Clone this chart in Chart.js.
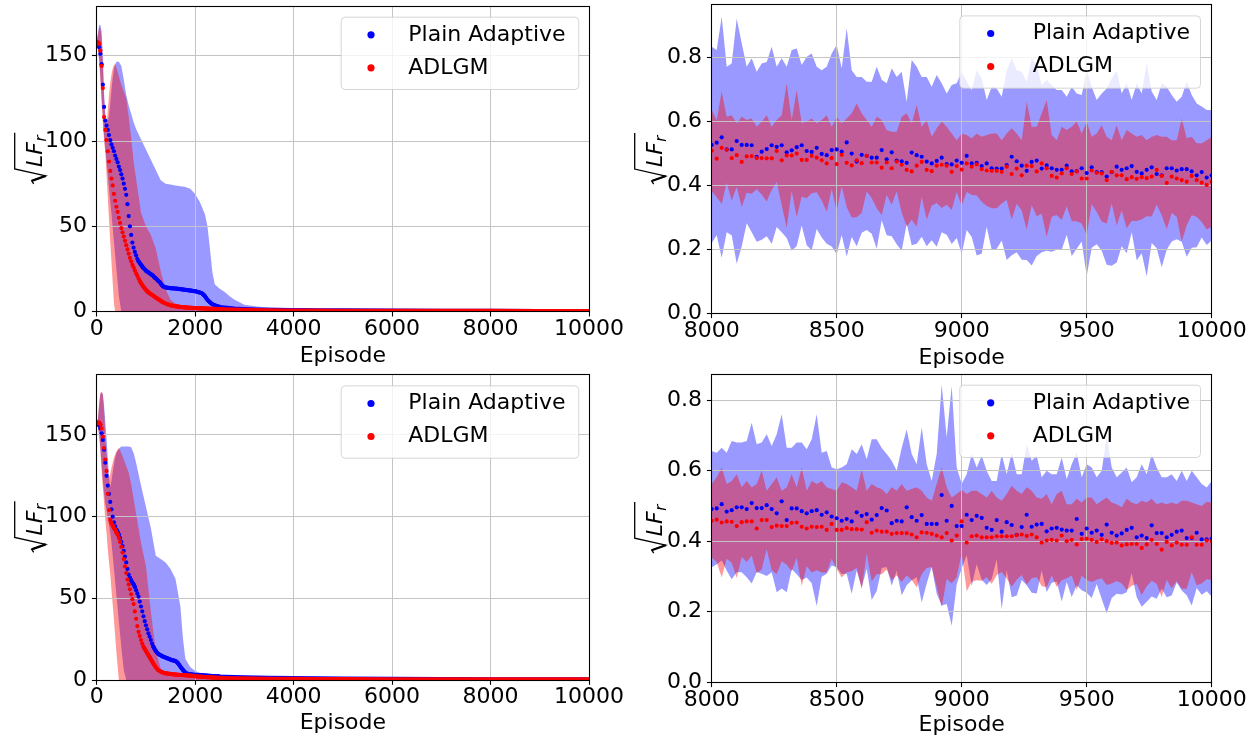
<!DOCTYPE html>
<html>
<head>
<meta charset="utf-8">
<script src="https://cdn.jsdelivr.net/npm/chart.js@4.4.1/dist/chart.umd.min.js"></script>
<style>
  body { margin: 0; background: #fff; }
  #wrap { position: relative; width: 1260px; height: 741px; overflow: hidden; }
  canvas { position: absolute; }
</style>
</head>
<body>
<div id="wrap">
  <canvas id="tl" width="630" height="370" style="left:0;top:0"></canvas>
  <canvas id="tr" width="630" height="370" style="left:630px;top:0"></canvas>
  <canvas id="bl" width="630" height="371" style="left:0;top:370px"></canvas>
  <canvas id="br" width="630" height="371" style="left:630px;top:370px"></canvas>
</div>
<script>
// ---- episodes ----
// left panels: one point every 25 episodes up to 2500, then a sparse tail (drawn as a thick line)
const denseEpisodes = Array.from({ length: 101 }, (_, i) => i * 25);
const tailEpisodes = [2600, 2800, 3000, 3250, 3500, 4000, 4500, 5000, 6000, 7000, 8000, 9000, 10000];
const fullEpisodes = denseEpisodes.concat(tailEpisodes);
// std band outline of the left panels
const bandEpisodes = [0, 25, 50, 75, 100, 125, 150, 175, 200, 225, 250, 275, 300, 325, 350, 375, 400,
  450, 500, 550, 600, 650, 700, 750, 800, 900, 1000, 1100, 1200, 1300, 1400, 1500, 1600, 1700, 1750,
  1800, 1900, 2000, 2100, 2200, 2250, 2300, 2350, 2400, 2500, 2600, 2700, 2800, 3000, 3250, 3500,
  4000, 4500, 5000, 6000, 7000, 8000, 9000, 10000];
// right panels: last 2000 episodes, one point every 20
const lateEpisodes = Array.from({ length: 101 }, (_, i) => 8000 + i * 20);

// tick labels
const xTicksFull = [0, 2000, 4000, 6000, 8000, 10000];
const xTicksLate = [8000, 8500, 9000, 9500, 10000];
const yTicksFull = [0, 50, 100, 150];
const yTicksLate = [0, 0.2, 0.4, 0.6, 0.8];

// ---- top left ----
const tlBlueMean = [
  158, 157, 155, 151, 145, 133, 120, 112, 109, 106.5,
  103.5, 100.5, 98, 96, 94, 91.5, 89.5, 87.5, 85, 83,
  80.5, 78, 75, 72, 68.5, 63, 56, 50, 45, 40.5,
  37.5, 35, 33, 31, 29.5, 28.5, 27.5, 26.5, 25.5, 24.8,
  24, 23.5, 23, 22.5, 22, 21.5, 21, 20, 19.5, 18.8,
  18, 17.5, 16.5, 15.5, 14.8, 14.5, 14.2, 14.1, 14, 13.9,
  13.8, 13.7, 13.7, 13.6, 13.6, 13.5, 13.4, 13.3, 13.2, 13.1,
  13, 12.9, 12.8, 12.7, 12.6, 12.5, 12.4, 12.3, 12.2, 12.1,
  12, 11.8, 11.6, 11.4, 11.2, 10.9, 10.5, 9.8, 9, 8,
  7, 6.2, 5.5, 4.9, 4.4, 4, 3.7, 3.4, 3.2, 3,
  2.8,
  2.5, 1.9, 1.6, 1.35, 1.2, 1.0, 0.9, 0.8, 0.7, 0.62, 0.53, 0.47, 0.43];
const tlRedMean = [
  158, 157.8, 157, 153, 144, 131, 114, 106.5, 100.5, 94,
  88, 82.5, 78, 74, 69, 65, 61.5, 58.5, 55, 52,
  49, 46.5, 44, 41.5, 39, 36.5, 34, 31.5, 29.5, 27.5,
  26, 24.2, 22.5, 21, 19.5, 18, 16.8, 15.6, 14.6, 13.6,
  12.8, 12, 11.3, 10.8, 10.3, 9.8, 9.3, 8.8, 8.3, 7.8,
  7.3, 6.9, 6.4, 5.9, 5.5, 5.1, 4.8, 4.5, 4.2, 4,
  3.8, 3.6, 3.5, 3.3, 3.2, 3.1, 3, 2.9, 2.8, 2.7,
  2.6, 2.55, 2.5, 2.45, 2.4, 2.35, 2.3, 2.25, 2.2, 2.15,
  2.1, 2.08, 2.05, 2.02, 2, 1.97, 1.94, 1.91, 1.88, 1.85,
  1.82, 1.79, 1.76, 1.73, 1.7, 1.67, 1.64, 1.61, 1.58, 1.55,
  1.52,
  1.42, 1.25, 1.1, 0.95, 0.85, 0.75, 0.68, 0.62, 0.56, 0.52, 0.5, 0.46, 0.41];
const tlBlueUpper = [
  159, 163, 168, 168, 164, 150, 128, 116, 112, 112,
  115, 122, 130, 137, 142, 145, 146.5, 146.5, 144, 136,
  127, 121, 116, 111, 107, 101, 95, 89, 83, 77,
  75, 74.5, 74, 73.5, 73.3, 73, 72, 69, 64, 57,
  50, 37, 23, 16, 13.5, 11.5, 9, 7, 4, 3,
  2.5, 2, 1.7, 1.5, 1.2, 1, 0.85, 0.75, 0.7];
const tlBlueLower = [
  157, 154, 148, 138, 126, 114, 103, 95, 88, 80,
  72, 64, 57, 49, 41, 33, 25, 9, 0, 0,
  0, 0, 0, 0, 0, 0, 0, 0, 0, 0,
  0, 0, 0, 0, 0, 0, 0, 0, 0, 0,
  0, 0, 0, 0, 0, 0, 0, 0, 0, 0,
  0, 0, 0, 0, 0, 0, 0, 0, 0];
const tlRedUpper = [
  159, 162, 167, 166, 160, 145, 125, 112, 110, 118,
  127, 134, 139, 142.5, 144.5, 145, 143, 138, 133, 129,
  125, 114, 102, 88, 78, 58, 50, 45, 37, 24,
  13, 7, 4.8, 3.9, 3.6, 3.4, 3.1, 2.9, 2.7, 2.6,
  2.55, 2.5, 2.45, 2.4, 2.3, 2.2, 2.1, 2, 1.9, 1.7,
  1.6, 1.4, 1.3, 1.15, 1, 0.85, 0.7, 0.62, 0.56];
const tlRedLower = [
  157, 154, 147, 135, 122, 110, 100, 93, 80, 67,
  54, 41, 29, 17, 5, 0, 0, 0, 0, 0,
  0, 0, 0, 0, 0, 0, 0, 0, 0, 0,
  0, 0, 0, 0, 0, 0, 0, 0, 0, 0,
  0, 0, 0, 0, 0, 0, 0, 0, 0, 0,
  0, 0, 0, 0, 0, 0, 0, 0, 0];

// ---- bottom left ----
const blBlueMean = [
  157.5, 157, 156, 154, 151, 147, 141, 133, 125, 119,
  114, 109, 104.5, 100, 96.5, 94, 92, 90.5, 89, 87,
  84.5, 82, 79, 75.5, 72, 68, 64.5, 62.5, 61, 59.5,
  58.5, 57, 55, 53, 51, 48, 45, 42, 39, 36,
  33.5, 31, 28.6, 26.5, 24.5, 22.3, 20.5, 19, 17.8, 16.8,
  16, 15.5, 15.1, 14.7, 14.3, 14, 13.7, 13.4, 13.1, 12.8,
  12.5, 12.2, 12, 11.8, 11.5, 11.1, 10.3, 9.3, 8.2, 7.2,
  6.2, 5.3, 4.6, 4.1, 3.8, 3.6, 3.5, 3.4, 3.3, 3.2,
  3.15, 3.1, 3.05, 3, 2.95, 2.9, 2.85, 2.8, 2.75, 2.7,
  2.65, 2.6, 2.55, 2.5, 2.45, 2.4, 2.35, 2.3, 2.25, 2.2,
  2.15,
  2.05, 1.9, 1.75, 1.6, 1.45, 1.25, 1.1, 0.95, 0.8, 0.68, 0.49, 0.45, 0.41];
const blRedMean = [
  157.5, 157.5, 157.5, 156.5, 154, 149, 142, 135, 128, 114,
  104, 98, 96, 94.5, 93, 92, 90.5, 89, 87, 84.5,
  81.5, 78, 74, 69.5, 65.5, 61.5, 58.5, 55.5, 52.5, 49.5,
  46.5, 42, 37.5, 33, 29.5, 27, 24.5, 22.3, 20.4, 19,
  17.7, 16.5, 15.3, 14, 12.7, 11.4, 10.2, 9, 7.9, 6.9,
  6.1, 5.6, 5.2, 4.8, 4.5, 4.3, 4.1, 4, 3.9, 3.8,
  3.7, 3.6, 3.5, 3.4, 3.35, 3.3, 3.2, 3.15, 3.1, 3.05,
  3, 2.95, 2.9, 2.85, 2.8, 2.75, 2.7, 2.6, 2.5, 2.4,
  2.3, 2.2, 2.15, 2.1, 2.05, 2, 1.95, 1.9, 1.85, 1.8,
  1.75, 1.7, 1.65, 1.6, 1.55, 1.5, 1.45, 1.42, 1.39, 1.36,
  1.33,
  1.25, 1.12, 1.02, 0.92, 0.84, 0.72, 0.64, 0.58, 0.52, 0.48, 0.45, 0.42, 0.40];
const blBlueUpper = [
  158, 160, 168, 175, 176, 175, 168, 158, 148, 136,
  124, 118, 122, 127, 132, 136, 139, 141.5, 143, 143,
  143, 143, 142.5, 139, 133, 119, 106, 93, 76, 74,
  72, 68, 62, 45, 26, 13, 8, 5.5, 4.5, 3.8,
  3.5, 3.3, 3.1, 3, 2.8, 2.6, 2.4, 2.2, 1.9, 1.5,
  1.2, 1.0, 0.95, 0.9, 0.8, 0.75, 0.6, 0.55, 0.5];
const blBlueLower = [
  157, 155, 150, 142, 132, 122, 114, 108, 104, 98,
  95, 90, 84, 76, 68, 60, 52, 36, 20, 6,
  0, 0, 0, 0, 0, 0, 0, 0, 0, 0,
  0, 0, 0, 0, 0, 0, 0, 0, 0, 0,
  0, 0, 0, 0, 0, 0, 0, 0, 0, 0,
  0, 0, 0, 0, 0, 0, 0, 0, 0];
const blRedUpper = [
  158, 160, 170, 176, 176.5, 175, 165, 150, 138, 128,
  124, 126, 130, 133, 136, 138, 140, 142, 139, 135,
  131, 127, 120, 111, 102, 84, 70, 42, 18, 7,
  4.5, 4, 3.7, 3.5, 3.4, 3.3, 3.1, 2.9, 2.7, 2.5,
  2.4, 2.3, 2.2, 2.1, 2, 1.9, 1.8, 1.7, 1.55, 1.4,
  1.25, 1.05, 0.95, 0.85, 0.75, 0.65, 0.6, 0.55, 0.5];
const blRedLower = [
  157, 155, 150, 140, 128, 118, 108, 98, 90, 80,
  72, 65, 55, 46, 37, 27, 17, 0, 0, 0,
  0, 0, 0, 0, 0, 0, 0, 0, 0, 0,
  0, 0, 0, 0, 0, 0, 0, 0, 0, 0,
  0, 0, 0, 0, 0, 0, 0, 0, 0, 0,
  0, 0, 0, 0, 0, 0, 0, 0, 0];

// ---- top right (mean and std) ----
const trBlueMean = [
  0.527, 0.534, 0.551, 0.513, 0.513, 0.539, 0.527, 0.527, 0.526, 0.490,
  0.506, 0.514, 0.526, 0.521, 0.526, 0.504, 0.510, 0.520, 0.526, 0.508,
  0.505, 0.518, 0.499, 0.495, 0.511, 0.513, 0.506, 0.535, 0.500, 0.475,
  0.496, 0.493, 0.487, 0.487, 0.511, 0.482, 0.504, 0.478, 0.476, 0.471,
  0.503, 0.495, 0.490, 0.475, 0.469, 0.477, 0.487, 0.467, 0.466, 0.478,
  0.471, 0.493, 0.469, 0.471, 0.461, 0.469, 0.454, 0.453, 0.453, 0.464,
  0.490, 0.476, 0.462, 0.446, 0.474, 0.478, 0.453, 0.463, 0.454, 0.449,
  0.449, 0.462, 0.444, 0.445, 0.454, 0.439, 0.457, 0.442, 0.442, 0.428,
  0.442, 0.459, 0.449, 0.454, 0.461, 0.443, 0.438, 0.449, 0.457, 0.436,
  0.432, 0.454, 0.454, 0.447, 0.451, 0.451, 0.444, 0.432, 0.442, 0.425,
  0.432];
const trBlueStd = [
  0.307, 0.290, 0.377, 0.259, 0.269, 0.384, 0.318, 0.245, 0.272, 0.266,
  0.276, 0.273, 0.308, 0.251, 0.272, 0.268, 0.314, 0.309, 0.251, 0.295,
  0.308, 0.254, 0.262, 0.277, 0.302, 0.327, 0.261, 0.357, 0.261, 0.265,
  0.244, 0.232, 0.238, 0.285, 0.220, 0.238, 0.263, 0.262, 0.280, 0.191,
  0.290, 0.277, 0.250, 0.265, 0.240, 0.269, 0.233, 0.221, 0.249, 0.242,
  0.285, 0.232, 0.230, 0.290, 0.274, 0.199, 0.255, 0.251, 0.225, 0.297,
  0.308, 0.285, 0.294, 0.279, 0.324, 0.299, 0.262, 0.267, 0.261, 0.250,
  0.250, 0.216, 0.265, 0.243, 0.229, 0.322, 0.252, 0.226, 0.246, 0.276,
  0.293, 0.300, 0.239, 0.266, 0.207, 0.277, 0.250, 0.333, 0.237, 0.232,
  0.288, 0.255, 0.229, 0.215, 0.227, 0.274, 0.239, 0.225, 0.205, 0.211,
  0.204];
const trRedMean = [
  0.509, 0.484, 0.518, 0.512, 0.486, 0.495, 0.474, 0.491, 0.492, 0.486,
  0.486, 0.485, 0.485, 0.508, 0.479, 0.494, 0.494, 0.500, 0.480, 0.480,
  0.493, 0.487, 0.479, 0.469, 0.486, 0.467, 0.496, 0.471, 0.463, 0.479,
  0.470, 0.493, 0.472, 0.472, 0.456, 0.472, 0.454, 0.475, 0.465, 0.449,
  0.444, 0.462, 0.474, 0.449, 0.445, 0.462, 0.465, 0.462, 0.443, 0.461,
  0.450, 0.469, 0.459, 0.466, 0.451, 0.447, 0.446, 0.446, 0.443, 0.459,
  0.436, 0.453, 0.432, 0.462, 0.461, 0.444, 0.469, 0.454, 0.430, 0.425,
  0.438, 0.454, 0.436, 0.444, 0.422, 0.422, 0.447, 0.440, 0.438, 0.417,
  0.443, 0.432, 0.432, 0.420, 0.426, 0.421, 0.426, 0.423, 0.428, 0.449,
  0.430, 0.408, 0.428, 0.422, 0.417, 0.412, 0.430, 0.417, 0.409, 0.402,
  0.412];
const trRedStd = [
  0.127, 0.121, 0.176, 0.103, 0.134, 0.100, 0.141, 0.114, 0.118, 0.098,
  0.114, 0.135, 0.099, 0.097, 0.141, 0.226, 0.111, 0.199, 0.115, 0.120,
  0.117, 0.108, 0.126, 0.151, 0.098, 0.148, 0.099, 0.139, 0.163, 0.178,
  0.156, 0.112, 0.112, 0.143, 0.149, 0.102, 0.114, 0.093, 0.150, 0.177,
  0.151, 0.190, 0.110, 0.156, 0.108, 0.117, 0.135, 0.122, 0.120, 0.081,
  0.113, 0.089, 0.089, 0.097, 0.102, 0.111, 0.117, 0.117, 0.099, 0.104,
  0.143, 0.110, 0.110, 0.200, 0.123, 0.140, 0.157, 0.214, 0.128, 0.117,
  0.146, 0.120, 0.148, 0.156, 0.141, 0.178, 0.106, 0.123, 0.151, 0.136,
  0.099, 0.157, 0.110, 0.154, 0.137, 0.132, 0.132, 0.119, 0.125, 0.109,
  0.123, 0.145, 0.114, 0.120, 0.193, 0.136, 0.123, 0.115, 0.123, 0.140,
  0.141];

// ---- bottom right (mean and std) ----
const brBlueMean = [
  0.491, 0.493, 0.505, 0.484, 0.488, 0.496, 0.496, 0.491, 0.508, 0.494,
  0.494, 0.502, 0.491, 0.479, 0.513, 0.460, 0.493, 0.493, 0.485, 0.479,
  0.485, 0.488, 0.475, 0.482, 0.470, 0.465, 0.458, 0.463, 0.456, 0.482,
  0.472, 0.477, 0.461, 0.474, 0.494, 0.487, 0.451, 0.458, 0.456, 0.496,
  0.468, 0.458, 0.474, 0.449, 0.449, 0.449, 0.531, 0.458, 0.500, 0.443,
  0.443, 0.475, 0.460, 0.472, 0.466, 0.438, 0.432, 0.460, 0.427, 0.454,
  0.446, 0.418, 0.440, 0.475, 0.441, 0.447, 0.449, 0.428, 0.436, 0.438,
  0.433, 0.430, 0.430, 0.463, 0.421, 0.436, 0.424, 0.430, 0.418, 0.447,
  0.424, 0.416, 0.422, 0.432, 0.438, 0.411, 0.416, 0.409, 0.445, 0.423,
  0.423, 0.411, 0.418, 0.427, 0.430, 0.409, 0.409, 0.424, 0.405, 0.405,
  0.407];
const brBlueStd = [
  0.165, 0.158, 0.160, 0.167, 0.196, 0.184, 0.184, 0.193, 0.228, 0.181,
  0.186, 0.201, 0.179, 0.224, 0.247, 0.205, 0.172, 0.187, 0.195, 0.182,
  0.204, 0.272, 0.176, 0.174, 0.139, 0.139, 0.151, 0.155, 0.205, 0.165,
  0.203, 0.155, 0.228, 0.215, 0.170, 0.160, 0.177, 0.142, 0.209, 0.221,
  0.179, 0.160, 0.248, 0.169, 0.122, 0.198, 0.313, 0.236, 0.340, 0.166,
  0.120, 0.115, 0.187, 0.137, 0.176, 0.162, 0.139, 0.111, 0.220, 0.136,
  0.205, 0.172, 0.150, 0.200, 0.187, 0.195, 0.132, 0.172, 0.154, 0.152,
  0.204, 0.146, 0.188, 0.188, 0.160, 0.182, 0.185, 0.151, 0.182, 0.251,
  0.185, 0.165, 0.173, 0.177, 0.129, 0.170, 0.202, 0.181, 0.202, 0.186,
  0.158, 0.170, 0.172, 0.144, 0.170, 0.162, 0.191, 0.157, 0.157, 0.147,
  0.164];
const brRedMean = [
  0.458, 0.461, 0.453, 0.456, 0.455, 0.443, 0.454, 0.456, 0.456, 0.436,
  0.460, 0.460, 0.440, 0.444, 0.443, 0.443, 0.452, 0.453, 0.441, 0.436,
  0.441, 0.440, 0.441, 0.432, 0.449, 0.432, 0.432, 0.437, 0.434, 0.434,
  0.433, 0.454, 0.424, 0.430, 0.427, 0.427, 0.421, 0.423, 0.423, 0.423,
  0.419, 0.411, 0.425, 0.424, 0.421, 0.416, 0.411, 0.423, 0.402, 0.416,
  0.456, 0.396, 0.414, 0.416, 0.411, 0.411, 0.411, 0.414, 0.414, 0.414,
  0.414, 0.417, 0.419, 0.415, 0.419, 0.411, 0.396, 0.402, 0.404, 0.402,
  0.416, 0.400, 0.404, 0.391, 0.406, 0.407, 0.404, 0.398, 0.405, 0.400,
  0.395, 0.396, 0.388, 0.391, 0.392, 0.392, 0.381, 0.391, 0.404, 0.392,
  0.376, 0.398, 0.388, 0.396, 0.390, 0.390, 0.411, 0.390, 0.390, 0.402,
  0.400];
const brRedStd = [
  0.104, 0.120, 0.156, 0.106, 0.116, 0.147, 0.099, 0.115, 0.097, 0.126,
  0.140, 0.083, 0.122, 0.137, 0.100, 0.110, 0.138, 0.100, 0.168, 0.107,
  0.130, 0.122, 0.130, 0.121, 0.099, 0.111, 0.135, 0.125, 0.119, 0.109,
  0.170, 0.089, 0.138, 0.123, 0.121, 0.107, 0.132, 0.120, 0.139, 0.120,
  0.129, 0.142, 0.118, 0.100, 0.094, 0.146, 0.198, 0.130, 0.122, 0.118,
  0.090, 0.138, 0.129, 0.127, 0.123, 0.113, 0.132, 0.110, 0.101, 0.120,
  0.143, 0.126, 0.115, 0.138, 0.124, 0.113, 0.124, 0.132, 0.101, 0.132,
  0.127, 0.105, 0.101, 0.129, 0.104, 0.117, 0.120, 0.107, 0.110, 0.124,
  0.115, 0.109, 0.108, 0.129, 0.118, 0.113, 0.134, 0.119, 0.116, 0.113,
  0.134, 0.107, 0.122, 0.109, 0.125, 0.125, 0.099, 0.115, 0.110, 0.110,
  0.110];

// ---- styling ----
const PLAIN = '#0000ff';
const ADLGM = '#ff0000';
const PLAIN_BAND = 'rgba(0,0,255,0.4)';
const ADLGM_BAND = 'rgba(255,0,0,0.4)';
const GRID = '#c4c4c4';
const FONT = '"DejaVu Sans", "Liberation Sans", sans-serif';

Chart.defaults.font.family = FONT;
Chart.defaults.font.size = 22;
Chart.defaults.color = '#000';

const xy = (xs, ys) => xs.map((x, i) => ({ x: x, y: ys[i] }));
const plus = (m, s) => m.map((v, i) => v + s[i]);
const minus = (m, s) => m.map((v, i) => v - s[i]);
const align = (px) => Math.round(px - 0.5) + 0.5;

function meanSet(xs, ys, color, joined) {
  return {
    data: xy(xs, ys),
    order: color === ADLGM ? 0 : 1,
    borderColor: color,
    backgroundColor: color,
    pointBackgroundColor: color,
    pointBorderWidth: 0,
    pointRadius: joined ? (c => (c.raw && c.raw.x <= 2500 ? 2.1 : 0)) : 2.1,
    showLine: joined,
    borderWidth: 4,
    borderCapStyle: 'round',
    borderJoinStyle: 'round',
    // the dots only melt into a line where the curve is flat
    segment: joined ? { borderColor: c => (Math.abs(c.p1.y - c.p0.y) > 2.5 ? 'rgba(0,0,0,0)' : color) } : {},
    fill: false,
    tension: 0,
    clip: 0
  };
}

function bandEdge(xs, ys, order) {
  return { data: xy(xs, ys), order: order, borderWidth: 0, pointRadius: 0, fill: false, tension: 0, clip: 0 };
}

function drawYTitle(ctx, bx, cy) {
  ctx.save();
  ctx.translate(bx, cy);
  ctx.rotate(-Math.PI / 2);
  ctx.fillStyle = '#000';
  ctx.strokeStyle = '#000';
  ctx.textBaseline = 'alphabetic';
  ctx.textAlign = 'left';
  ctx.font = 'italic 22px ' + FONT;
  const wLF = ctx.measureText('LF').width;
  ctx.font = 'italic 15px ' + FONT;
  const wR = ctx.measureText('r').width;
  const rad = 18;
  const W = rad + wLF + wR + 3;
  const x0 = -W / 2;
  ctx.lineWidth = 1.3;
  ctx.lineJoin = 'miter';
  ctx.beginPath();
  ctx.moveTo(x0 + 1, -8);
  ctx.lineTo(x0 + 4, -10);
  ctx.lineTo(x0 + 9, 4);
  ctx.lineTo(x0 + 16, -27);
  ctx.lineTo(x0 + W, -27);
  ctx.stroke();
  ctx.lineWidth = 2.2;
  ctx.beginPath();
  ctx.moveTo(x0 + 4, -10);
  ctx.lineTo(x0 + 9, 4);
  ctx.stroke();
  ctx.font = 'italic 22px ' + FONT;
  ctx.fillText('LF', x0 + rad, 0);
  ctx.font = 'italic 15px ' + FONT;
  ctx.fillText('r', x0 + rad + wLF + 0.5, 4.5);
  ctx.restore();
}

function drawLegend(ctx, area, L) {
  const top = area.top + 10.7;
  const h = 72.3;
  ctx.save();
  ctx.beginPath();
  ctx.roundRect(L.left + 0.5, top + 0.5, L.right - L.left, h, 4);
  ctx.fillStyle = 'rgba(255,255,255,0.8)';
  ctx.fill();
  ctx.strokeStyle = 'rgba(204,204,204,0.8)';
  ctx.lineWidth = 1;
  ctx.stroke();
  const rows = [
    { label: 'Plain Adaptive', color: PLAIN, y: area.top + 28.8 },
    { label: 'ADLGM', color: ADLGM, y: area.top + 61.8 }
  ];
  ctx.font = '22px ' + FONT;
  ctx.textBaseline = 'middle';
  ctx.textAlign = 'left';
  rows.forEach(r => {
    ctx.fillStyle = r.color;
    ctx.beginPath();
    ctx.arc(L.marker, r.y, 3.6, 0, Math.PI * 2);
    ctx.fill();
    ctx.fillStyle = '#000';
    ctx.fillText(r.label, L.text, r.y);
  });
  ctx.restore();
}

const decorations = {
  id: 'decorations',
  beforeDatasetDraw(chart, args) {
    // matplotlib draws the grid above the shaded bands but below the dots
    if (args.index !== 1) return;
    const { ctx, chartArea: a, scales } = chart;
    ctx.save();
    ctx.strokeStyle = GRID;
    ctx.lineWidth = 1;
    ctx.beginPath();
    scales.x.ticks.forEach(t => {
      const px = align(scales.x.getPixelForValue(t.value));
      ctx.moveTo(px, a.top);
      ctx.lineTo(px, a.bottom);
    });
    scales.y.ticks.forEach(t => {
      const py = align(scales.y.getPixelForValue(t.value));
      ctx.moveTo(a.left, py);
      ctx.lineTo(a.right, py);
    });
    ctx.stroke();
    ctx.restore();
  },
  afterDatasetsDraw(chart) {
    const { ctx, chartArea: a } = chart;
    ctx.save();
    ctx.strokeStyle = '#000';
    ctx.lineWidth = 1.1;
    const l = align(a.left), r = align(a.right), t = align(a.top), b = align(a.bottom);
    ctx.strokeRect(l, t, r - l, b - t);
    ctx.restore();
  },
  afterDraw(chart) {
    const o = chart.options.plugins.decorations;
    drawLegend(chart.ctx, chart.chartArea, o.legend);
    drawYTitle(chart.ctx, o.titleX, (chart.chartArea.top + chart.chartArea.bottom) / 2);
  }
};

function panel(id, p) {
  const datasets = [
    meanSet(p.meanX, p.redMean, ADLGM, p.joined),
    meanSet(p.meanX, p.blueMean, PLAIN, p.joined),
    bandEdge(p.bandX, p.redLower, 2),
    Object.assign(bandEdge(p.bandX, p.redUpper, 2), { fill: 2, backgroundColor: ADLGM_BAND }),
    bandEdge(p.bandX, p.blueLower, 3),
    Object.assign(bandEdge(p.bandX, p.blueUpper, 3), { fill: 4, backgroundColor: PLAIN_BAND })
  ];
  new Chart(document.getElementById(id), {
    type: 'line',
    data: { datasets: datasets },
    options: {
      responsive: false,
      devicePixelRatio: 1,
      animation: false,
      events: [],
      layout: { padding: { left: 0, right: p.padRight, top: p.padTop, bottom: 0 } },
      plugins: {
        legend: { display: false },
        tooltip: { enabled: false },
        decorations: { legend: p.legend, titleX: p.titleX }
      },
      scales: {
        x: {
          type: 'linear',
          min: p.xMin,
          max: p.xMax,
          afterBuildTicks: s => { s.ticks = p.xTicks.map(v => ({ value: v })); },
          afterFit: s => { s.height = p.xHeight; s.paddingLeft = 0; s.paddingRight = 0; },
          ticks: { callback: v => String(v), padding: -0.5, maxRotation: 0, autoSkip: false, color: '#000' },
          grid: { color: GRID, lineWidth: 1, tickLength: 4.8, tickColor: '#000', tickWidth: 1.1 },
          border: { display: false },
          title: { display: true, text: 'Episode', color: '#000', padding: { top: 0, bottom: p.titlePad } }
        },
        y: {
          type: 'linear',
          min: 0,
          max: p.yMax,
          afterBuildTicks: s => { s.ticks = p.yTicks.map(v => ({ value: v })); },
          afterFit: s => { s.width = p.yWidth; s.paddingTop = 0; s.paddingBottom = 0; },
          ticks: { callback: p.yFmt, padding: 4.9, autoSkip: false, color: '#000' },
          grid: { color: GRID, lineWidth: 1, tickLength: 4.8, tickColor: '#000', tickWidth: 1.1 },
          border: { display: false }
        }
      }
    },
    plugins: [decorations]
  });
}

const legendLeft = { left: 340.7, right: 578.3, marker: 371, text: 408.3 };
const legendRight = { left: 329.3, right: 570, marker: 360.7, text: 402.7 };

panel('tl', {
  joined: true, meanX: fullEpisodes, bandX: bandEpisodes,
  blueMean: tlBlueMean, redMean: tlRedMean,
  blueUpper: tlBlueUpper, blueLower: tlBlueLower, redUpper: tlRedUpper, redLower: tlRedLower,
  xMin: 0, xMax: 10000, xTicks: xTicksFull, yMax: 179.1, yTicks: yTicksFull, yFmt: v => String(v),
  yWidth: 96.7, padRight: 41, padTop: 6, xHeight: 58.3, titlePad: 0.1,
  legend: legendLeft, titleX: 41.7
});
panel('tr', {
  joined: false, meanX: lateEpisodes, bandX: lateEpisodes,
  blueMean: trBlueMean, redMean: trRedMean,
  blueUpper: plus(trBlueMean, trBlueStd), blueLower: minus(trBlueMean, trBlueStd),
  redUpper: plus(trRedMean, trRedStd), redLower: minus(trRedMean, trRedStd),
  xMin: 8000, xMax: 10000, xTicks: xTicksLate, yMax: 0.966, yTicks: yTicksLate, yFmt: v => v.toFixed(1),
  yWidth: 81.7, padRight: 48.3, padTop: 4.7, xHeight: 56.7, titlePad: -1.6,
  legend: legendRight, titleX: 31.7
});
panel('bl', {
  joined: true, meanX: fullEpisodes, bandX: bandEpisodes,
  blueMean: blBlueMean, redMean: blRedMean,
  blueUpper: blBlueUpper, blueLower: blBlueLower, redUpper: blRedUpper, redLower: blRedLower,
  xMin: 0, xMax: 10000, xTicks: xTicksFull, yMax: 186.9, yTicks: yTicksFull, yFmt: v => String(v),
  yWidth: 96.7, padRight: 41, padTop: 4.7, xHeight: 61, titlePad: 4.1,
  legend: legendLeft, titleX: 41.7
});
panel('br', {
  joined: false, meanX: lateEpisodes, bandX: lateEpisodes,
  blueMean: brBlueMean, redMean: brRedMean,
  blueUpper: plus(brBlueMean, brBlueStd), blueLower: minus(brBlueMean, brBlueStd),
  redUpper: plus(brRedMean, brRedStd), redLower: minus(brRedMean, brRedStd),
  xMin: 8000, xMax: 10000, xTicks: xTicksLate, yMax: 0.874, yTicks: yTicksLate, yFmt: v => v.toFixed(1),
  yWidth: 81.7, padRight: 48.3, padTop: 2.7, xHeight: 58.7, titlePad: 2.1,
  legend: legendRight, titleX: 31.7
});
</script>
</body>
</html>
